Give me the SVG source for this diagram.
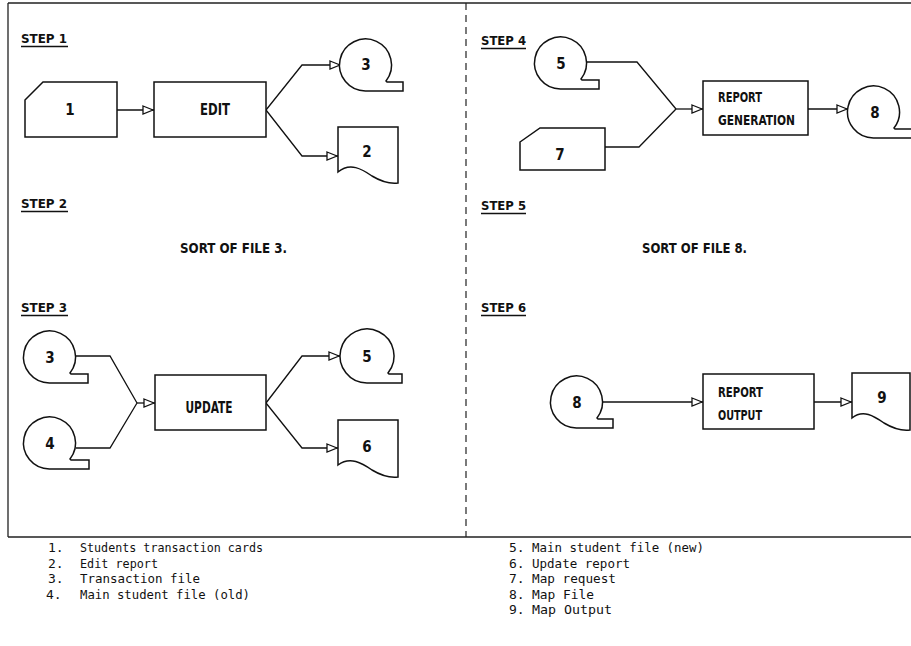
<svg xmlns="http://www.w3.org/2000/svg" width="911" height="646" viewBox="0 0 911 646">
<style>
.frame{stroke:#222;stroke-width:1.3;fill:none}
.div{stroke:#222;stroke-width:1.2;fill:none;stroke-dasharray:7 5}
.shape{stroke:#111;stroke-width:1.5;fill:#fff}
.con{stroke:#111;stroke-width:1.3;fill:none}
.step{font-family:"DejaVu Sans Condensed","DejaVu Sans",sans-serif;font-weight:bold;font-size:13px;fill:#111}
.ul{stroke:#111;stroke-width:1.3}
.lbl{font-family:"DejaVu Sans Condensed","DejaVu Sans",sans-serif;font-weight:bold;font-size:15px;fill:#111;text-anchor:middle}
.ptxt{font-family:"DejaVu Sans Condensed","DejaVu Sans",sans-serif;font-weight:bold;font-size:14px;fill:#111}
.leg{font-family:"DejaVu Sans Mono","Liberation Mono",monospace;font-size:13px;fill:#111}
</style>
<defs>
<marker id="arr" viewBox="0 0 12 10" refX="12" refY="5" markerWidth="12" markerHeight="10" markerUnits="userSpaceOnUse" orient="auto">
<path d="M1,1 L11,5 L1,9 Z" fill="#fff" stroke="#111" stroke-width="1.3"/>
</marker>
</defs>
<rect width="911" height="646" fill="#fff"/>
<g id="frame">
<path class="frame" d="M8,3 H911 M8,3 V537 M8,537 H911"/>
<path class="div" d="M466,3 V537"/>
</g>
<g id="step-labels">
<text class="step" x="21" y="43" textLength="46" lengthAdjust="spacingAndGlyphs">STEP 1</text>
<line class="ul" x1="21" y1="46.5" x2="68" y2="46.5"/>
<text class="step" x="21" y="208" textLength="46" lengthAdjust="spacingAndGlyphs">STEP 2</text>
<line class="ul" x1="21" y1="211.5" x2="68" y2="211.5"/>
<text class="step" x="21" y="312" textLength="46" lengthAdjust="spacingAndGlyphs">STEP 3</text>
<line class="ul" x1="21" y1="315.5" x2="68" y2="315.5"/>
<text class="step" x="481" y="45" textLength="45" lengthAdjust="spacingAndGlyphs">STEP 4</text>
<line class="ul" x1="481" y1="48.5" x2="526" y2="48.5"/>
<text class="step" x="481" y="210" textLength="45" lengthAdjust="spacingAndGlyphs">STEP 5</text>
<line class="ul" x1="481" y1="213.5" x2="526" y2="213.5"/>
<text class="step" x="481" y="312" textLength="45" lengthAdjust="spacingAndGlyphs">STEP 6</text>
<line class="ul" x1="481" y1="315.5" x2="526" y2="315.5"/>
<text class="ptxt" x="180" y="253" textLength="107" lengthAdjust="spacingAndGlyphs">SORT OF FILE 3.</text>
<text class="ptxt" x="642" y="253" textLength="105" lengthAdjust="spacingAndGlyphs">SORT OF FILE 8.</text>
</g>
<g id="connectors">
<path class="con" d="M117,110 H154" marker-end="url(#arr)"/>
<path class="con" d="M266,110 L302,65 H341" marker-end="url(#arr)"/>
<path class="con" d="M266,110 L302,156 H338" marker-end="url(#arr)"/>
<path class="con" d="M76,356 H110 L137,403 M76,448 H110 L137,403"/>
<path class="con" d="M137,403 H155" marker-end="url(#arr)"/>
<path class="con" d="M266,403 L302,356 H340" marker-end="url(#arr)"/>
<path class="con" d="M266,403 L302,448 H338" marker-end="url(#arr)"/>
<path class="con" d="M587,62 H637 L676,109 M605,147 H639 L676,109"/>
<path class="con" d="M676,109 H703" marker-end="url(#arr)"/>
<path class="con" d="M808,109 H848" marker-end="url(#arr)"/>
<path class="con" d="M603,402 H703" marker-end="url(#arr)"/>
<path class="con" d="M814,402 H852" marker-end="url(#arr)"/>
</g>
<g id="n1">
<path class="shape" d="M25,100 L43,82 H117 V137 H25 Z"/>
<text class="lbl" x="70" y="115">1</text>
</g>
<g id="edit">
<rect class="shape" x="154" y="82" width="112" height="55"/>
<text class="lbl" x="215" y="115" textLength="30" lengthAdjust="spacingAndGlyphs">EDIT</text>
</g>
<g id="n3-step1">
<path class="shape" d="M366,91 A26,26 0 1 1 386,81 L387,82 H403 V91 Z"/>
<text class="lbl" x="366" y="70">3</text>
</g>
<g id="n2">
<path class="shape" d="M338,127 H398 V183 C390,184 382,182 372,176 C362,169 350,162 338,172 Z"/>
<text class="lbl" x="367" y="157">2</text>
</g>
<g id="n3">
<path class="shape" d="M50,383 A26,26 0 1 1 70,373 L71,374 H88 V383 Z"/>
<text class="lbl" x="50" y="363">3</text>
</g>
<g id="n4">
<path class="shape" d="M50,469 A26,26 0 1 1 70,459 L71,460 H89 V469 Z"/>
<text class="lbl" x="50" y="449">4</text>
</g>
<g id="update">
<rect class="shape" x="155" y="375" width="111" height="55"/>
<text class="lbl" x="209" y="413" textLength="47" lengthAdjust="spacingAndGlyphs">UPDATE</text>
</g>
<g id="n5-step3">
<path class="shape" d="M367,383 A27,27 0 1 1 388,373 L389,374 H402 V383 Z"/>
<text class="lbl" x="367" y="362">5</text>
</g>
<g id="n6">
<path class="shape" d="M338,420 H398 V477 C390,478 382,476 372,470 C362,463 350,456 338,465 Z"/>
<text class="lbl" x="367" y="452">6</text>
</g>
<g id="n5-step4">
<path class="shape" d="M561,89 A26,26 0 1 1 581,79 L582,80 H599 V89 Z"/>
<text class="lbl" x="561" y="69">5</text>
</g>
<g id="n7">
<path class="shape" d="M520,142 L540,128 H605 V170 H520 Z"/>
<text class="lbl" x="560" y="160">7</text>
</g>
<g id="report-generation">
<rect class="shape" x="703" y="81" width="105" height="54"/>
<text class="ptxt" x="718" y="102" textLength="44" lengthAdjust="spacingAndGlyphs">REPORT</text>
<text class="ptxt" x="718" y="125" textLength="77" lengthAdjust="spacingAndGlyphs">GENERATION</text>
</g>
<g id="n8-step4">
<path class="shape" d="M874,138 A26,26 0 1 1 894,128 L895,129 H912 V138 Z"/>
<text class="lbl" x="875" y="118">8</text>
</g>
<g id="n8-step6">
<path class="shape" d="M577,428 A26,26 0 1 1 597,418 L598,419 H613 V428 Z"/>
<text class="lbl" x="577" y="408">8</text>
</g>
<g id="report-output">
<rect class="shape" x="703" y="374" width="111" height="55"/>
<text class="ptxt" x="718" y="397" textLength="45" lengthAdjust="spacingAndGlyphs">REPORT</text>
<text class="ptxt" x="718" y="420" textLength="44" lengthAdjust="spacingAndGlyphs">OUTPUT</text>
</g>
<g id="n9">
<path class="shape" d="M852,373 H910 V430 C902,431 894,429 884,423 C874,416 863,409 852,418 Z"/>
<text class="lbl" x="882" y="403">9</text>
</g>
<g id="legend">
<text class="leg" x="48" y="552">1.</text>
<text class="leg" x="80" y="552" textLength="183" lengthAdjust="spacingAndGlyphs">Students transaction cards</text>
<text class="leg" x="48" y="567.5">2.</text>
<text class="leg" x="80" y="567.5" textLength="78" lengthAdjust="spacingAndGlyphs">Edit report</text>
<text class="leg" x="48" y="583">3.</text>
<text class="leg" x="80" y="583" textLength="120" lengthAdjust="spacingAndGlyphs">Transaction file</text>
<text class="leg" x="46" y="598.5">4.</text>
<text class="leg" x="80" y="598.5" textLength="170" lengthAdjust="spacingAndGlyphs">Main student file (old)</text>
<text class="leg" x="509" y="552">5.</text>
<text class="leg" x="532" y="552" textLength="172" lengthAdjust="spacingAndGlyphs">Main student file (new)</text>
<text class="leg" x="509" y="567.5">6.</text>
<text class="leg" x="532" y="567.5" textLength="98" lengthAdjust="spacingAndGlyphs">Update report</text>
<text class="leg" x="509" y="583">7.</text>
<text class="leg" x="532" y="583" textLength="84" lengthAdjust="spacingAndGlyphs">Map request</text>
<text class="leg" x="509" y="598.5">8.</text>
<text class="leg" x="532" y="598.5" textLength="62" lengthAdjust="spacingAndGlyphs">Map File</text>
<text class="leg" x="509" y="614">9.</text>
<text class="leg" x="532" y="614" textLength="80" lengthAdjust="spacingAndGlyphs">Map Output</text>
</g>
</svg>
